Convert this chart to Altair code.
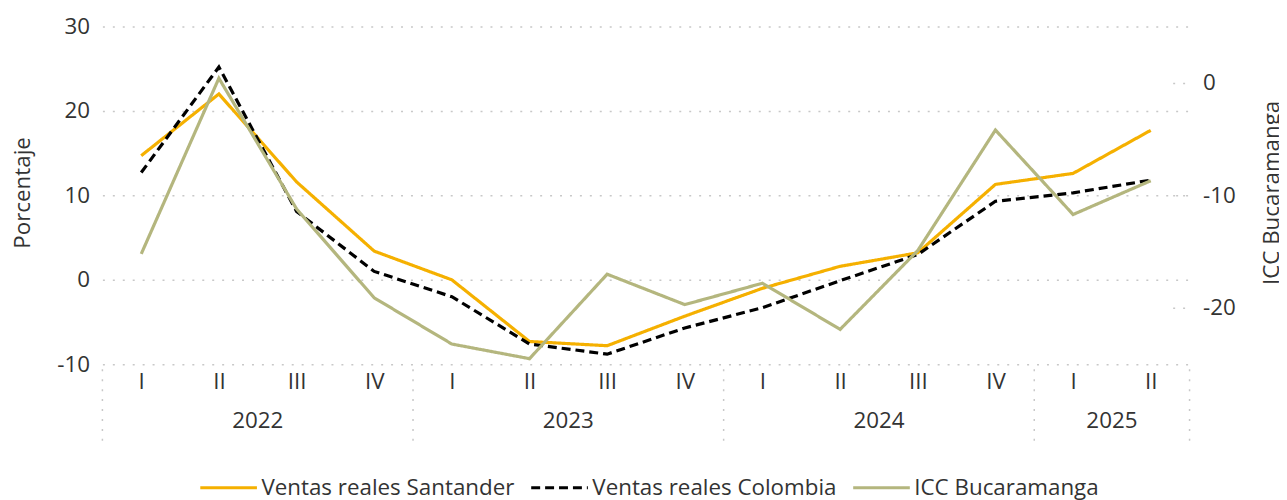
import json
import altair as alt
import pandas as pd

# ---- data ----
years = ["2022", "2022", "2022", "2022", "2023", "2023", "2023", "2023",
         "2024", "2024", "2024", "2024", "2025", "2025"]
quarters = ["I", "II", "III", "IV", "I", "II", "III", "IV",
            "I", "II", "III", "IV", "I", "II"]
santander = [14.7, 22.0, 11.6, 3.4, 0.0, -7.3, -7.8, -4.3, -1.0, 1.6, 3.2, 11.3, 12.6, 17.7]
colombia = [12.7, 25.2, 8.1, 1.0, -2.0, -7.6, -8.8, -5.7, -3.3, -0.1, 3.0, 9.3, 10.3, 11.8]
icc = [-15.2, 0.4, -11.2, -19.1, -23.2, -24.5, -17.0, -19.7, -17.8, -21.9, -14.9, -4.2, -11.7, -8.7]

series = ["Ventas reales Santander", "Ventas reales Colombia", "ICC Bucaramanga"]
colors = ["#F5B000", "#000000", "#B4B67E"]
dashes = [[1, 0], [9, 5], [1, 0]]

left_ticks = [-10, 0, 10, 20, 30]
right_ticks = [-20, -10, 0]

# ---- tables ----
n = len(years)
idx = list(range(n))
left_df = pd.DataFrame({
    "idx": idx * 2,
    "valor": santander + colombia,
    "serie": [series[0]] * n + [series[1]] * n,
})
right_df = pd.DataFrame({"idx": idx, "valor": icc, "serie": [series[2]] * n})

yr = pd.DataFrame({"idx": idx, "year": years}).groupby("year", sort=False)["idx"].agg(["min", "max"]).reset_index()
yr["center"] = (yr["min"] + yr["max"]) / 2
year_df = yr[["year", "center"]].rename(columns={"center": "idx"})
seps = list(yr["min"] - 0.5) + [yr["max"].iloc[-1] + 0.5]
sep_df = pd.DataFrame({"idx": seps})

W, H = 1094, 340
FONT = "Open Sans"
TXT = "#333333"
GRID = "#C8C8C8"
FS = 22.5

xenc = alt.X(
    "idx:Q",
    scale=alt.Scale(domain=[-0.5, n - 0.5], nice=False, zero=False),
    axis=alt.Axis(values=idx, labelExpr=json.dumps(quarters).replace('"', "'") + "[datum.value]",
                  grid=False, domain=False, ticks=False, labelPadding=6, title=None,
                  labelFontSize=FS, labelFont=FONT, labelColor=TXT),
)

legend = alt.Legend(orient="none", legendX=97, legendY=434, direction="horizontal", title=None,
                    symbolType="stroke", symbolSize=3249, symbolStrokeWidth=3,
                    labelFontSize=FS, labelFont=FONT, labelColor=TXT, columnPadding=10,
                    labelOffset=3, labelLimit=400)
color = alt.Color("serie:N", scale=alt.Scale(domain=series, range=colors), legend=legend)
dash = alt.StrokeDash("serie:N", scale=alt.Scale(domain=series, range=dashes), legend=legend)

left = alt.Chart(left_df).mark_line(strokeWidth=3.2).encode(
    x=xenc,
    y=alt.Y("valor:Q", scale=alt.Scale(domain=[-10, 30], nice=False),
            axis=alt.Axis(orient="left", values=left_ticks, grid=True, gridDash=[2, 8], gridColor=GRID,
                          gridWidth=1.5, domain=False, ticks=False, labelPadding=13,
                          labelExpr="toString(datum.value)",
                          labelFontSize=FS, labelFont=FONT, labelColor=TXT,
                          title="Porcentaje", titleFontSize=FS, titleFont=FONT, titleColor=TXT,
                          titleFontWeight="normal", titleAngle=-90, titleX=-80, titleY=167,
                          titleAlign="center", titleBaseline="middle")),
    color=color,
    strokeDash=dash,
    order=alt.Order("serie:N", sort="descending"),
)

right = alt.Chart(right_df).mark_line(strokeWidth=3.2).encode(
    x=xenc,
    y=alt.Y("valor:Q", scale=alt.Scale(domain=[-25, 5], nice=False, zero=False),
            axis=alt.Axis(orient="right", values=right_ticks, grid=False, domain=False, ticks=True,
                          tickDash=[2, 8], tickColor=GRID, tickWidth=1.5, tickSize=12, offset=-17,
                          labelPadding=18, labelExpr="toString(datum.value)",
                          labelFontSize=FS, labelFont=FONT, labelColor=TXT,
                          title="ICC Bucaramanga", titleFontSize=FS, titleFont=FONT, titleColor=TXT,
                          titleFontWeight="normal", titleAngle=-90, titleX=99, titleY=167,
                          titleAlign="center", titleBaseline="middle")),
    color=color,
    strokeDash=dash,
)

years_txt = alt.Chart(year_df).mark_text(fontSize=FS, font=FONT, color=TXT, baseline="middle").encode(
    x=xenc,
    y=alt.value(H + 57),
    text="year:N",
)

sep_rules = alt.Chart(sep_df).mark_rule(strokeDash=[2, 8], color=GRID, strokeWidth=1.5).encode(
    x=xenc,
    y=alt.value(H + 5),
    y2=alt.value(H + 78),
)

chart = alt.layer(sep_rules, years_txt, left, right).resolve_scale(y="independent").properties(
    width=W, height=H,
    autosize=alt.AutoSizeParams(type="none"),
    padding={"left": 95, "top": 17, "right": 90, "bottom": 135},
).configure_view(stroke=None)

chart.save("out.html", embed_options={"renderer": "svg", "actions": False})
